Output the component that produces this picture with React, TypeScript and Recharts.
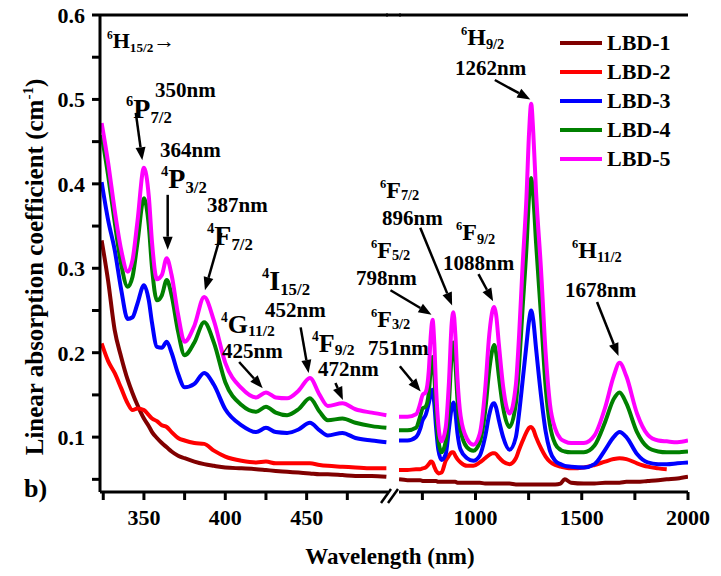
import React from 'react';
import {
  LineChart,
  Line,
  XAxis,
  YAxis,
  ReferenceLine,
  Legend,
} from 'recharts';

const FONT = 'Liberation Serif, DejaVu Serif, serif';

// UV-visible segment (nm)
const leftNm = [324, 328, 332, 336, 340, 343, 346, 350, 353, 355, 358, 361, 364, 367, 371, 375, 381, 387, 393, 400, 410, 419, 425, 431, 438, 445, 452, 458, 463, 472, 480, 490, 499];
const lbd1Left = [0.333, 0.285, 0.227, 0.195, 0.168, 0.152, 0.138, 0.122, 0.113, 0.106, 0.099, 0.093, 0.088, 0.083, 0.078, 0.075, 0.071, 0.068, 0.066, 0.064, 0.063, 0.062, 0.061, 0.060, 0.059, 0.058, 0.057, 0.056, 0.056, 0.055, 0.054, 0.054, 0.053];
const lbd2Left = [0.211, 0.19, 0.176, 0.158, 0.14, 0.132, 0.134, 0.132, 0.126, 0.122, 0.119, 0.114, 0.112, 0.106, 0.099, 0.096, 0.093, 0.092, 0.084, 0.077, 0.072, 0.07, 0.071, 0.069, 0.069, 0.069, 0.069, 0.067, 0.066, 0.065, 0.064, 0.063, 0.063];
const lbd3Left = [0.402, 0.357, 0.322, 0.275, 0.24, 0.242, 0.258, 0.28, 0.262, 0.235, 0.207, 0.206, 0.213, 0.2, 0.175, 0.159, 0.163, 0.176, 0.162, 0.133, 0.114, 0.106, 0.111, 0.106, 0.105, 0.109, 0.117, 0.108, 0.102, 0.105, 0.099, 0.096, 0.094];
const lbd4Left = [0.458, 0.41, 0.355, 0.305, 0.278, 0.29, 0.33, 0.383, 0.35, 0.3, 0.262, 0.268, 0.286, 0.268, 0.225, 0.197, 0.212, 0.236, 0.212, 0.165, 0.138, 0.13, 0.136, 0.129, 0.126, 0.133, 0.146, 0.13, 0.12, 0.122, 0.117, 0.113, 0.111];
const lbd5Left = [0.472, 0.425, 0.369, 0.322, 0.296, 0.31, 0.355, 0.419, 0.385, 0.33, 0.287, 0.292, 0.312, 0.292, 0.245, 0.213, 0.232, 0.266, 0.238, 0.188, 0.158, 0.147, 0.153, 0.147, 0.146, 0.155, 0.17, 0.15, 0.137, 0.14, 0.133, 0.129, 0.126];

// NIR segment (nm)
const rightNm = [640, 680, 720, 740, 751, 765, 780, 790, 798, 806, 815, 825, 840, 860, 875, 888, 896, 905, 915, 930, 960, 990, 1020, 1045, 1065, 1080, 1088, 1097, 1110, 1130, 1160, 1190, 1205, 1221, 1240, 1252, 1262, 1272, 1285, 1308, 1330, 1350, 1375, 1400, 1420, 1450, 1510, 1560, 1610, 1650, 1678, 1710, 1760, 1810, 1860, 1900, 1950, 2000];
const lbd1Right = [0.05, 0.049, 0.049, 0.049, 0.048, 0.048, 0.048, 0.048, 0.048, 0.048, 0.048, 0.047, 0.047, 0.047, 0.047, 0.047, 0.047, 0.047, 0.046, 0.046, 0.046, 0.046, 0.046, 0.045, 0.045, 0.045, 0.045, 0.045, 0.045, 0.045, 0.045, 0.044, 0.044, 0.044, 0.044, 0.044, 0.044, 0.044, 0.044, 0.044, 0.044, 0.044, 0.044, 0.045, 0.05, 0.046, 0.045, 0.045, 0.046, 0.046, 0.046, 0.047, 0.047, 0.048, 0.049, 0.05, 0.051, 0.053];
const lbd2Right = [0.061, 0.061, 0.062, 0.062, 0.063, 0.064, 0.068, 0.071, 0.07, 0.065, 0.06, 0.057, 0.058, 0.072, 0.078, 0.082, 0.082, 0.078, 0.074, 0.07, 0.066, 0.066, 0.07, 0.075, 0.079, 0.081, 0.081, 0.08, 0.076, 0.071, 0.068, 0.075, 0.085, 0.095, 0.106, 0.111, 0.112, 0.109, 0.1, 0.087, 0.077, 0.071, 0.067, 0.065, 0.064, 0.063, 0.064, 0.067, 0.071, 0.074, 0.075, 0.074, 0.069, 0.065, 0.063, 0.062, null, null];
const lbd3Right = [0.096, 0.096, 0.1, 0.11, 0.12, 0.126, 0.14, 0.152, 0.156, 0.14, 0.11, 0.085, 0.073, 0.08, 0.11, 0.135, 0.141, 0.13, 0.105, 0.085, 0.075, 0.072, 0.078, 0.1, 0.127, 0.139, 0.14, 0.135, 0.12, 0.1, 0.085, 0.1, 0.128, 0.165, 0.21, 0.238, 0.25, 0.238, 0.205, 0.15, 0.107, 0.084, 0.072, 0.068, 0.066, 0.065, 0.064, 0.068, 0.085, 0.1, 0.106, 0.1, 0.08, 0.07, 0.068, 0.068, 0.069, 0.07];
const lbd4Right = [0.108, 0.108, 0.111, 0.125, 0.134, 0.136, 0.152, 0.182, 0.195, 0.175, 0.13, 0.097, 0.082, 0.095, 0.14, 0.198, 0.212, 0.19, 0.145, 0.108, 0.088, 0.084, 0.094, 0.13, 0.18, 0.204, 0.209, 0.2, 0.172, 0.135, 0.112, 0.14, 0.185, 0.25, 0.325, 0.385, 0.407, 0.385, 0.33, 0.245, 0.16, 0.115, 0.092, 0.085, 0.083, 0.082, 0.082, 0.09, 0.118, 0.145, 0.153, 0.14, 0.106, 0.088, 0.083, 0.082, 0.082, 0.083];
const lbd5Right = [0.124, 0.124, 0.127, 0.14, 0.15, 0.153, 0.178, 0.222, 0.239, 0.212, 0.155, 0.115, 0.095, 0.112, 0.165, 0.235, 0.248, 0.222, 0.17, 0.125, 0.098, 0.091, 0.104, 0.155, 0.222, 0.25, 0.254, 0.245, 0.21, 0.16, 0.128, 0.162, 0.22, 0.3, 0.385, 0.46, 0.495, 0.46, 0.39, 0.3, 0.2, 0.14, 0.11, 0.098, 0.095, 0.093, 0.093, 0.102, 0.135, 0.172, 0.188, 0.172, 0.128, 0.103, 0.096, 0.095, 0.094, 0.096];

const seriesNames = ['LBD-1', 'LBD-2', 'LBD-3', 'LBD-4', 'LBD-5'];
const seriesColors = ['#800000', '#ff0000', '#0000ff', '#008000', '#ff00ff'];

const yTicks = [0.05, 0.1, 0.15, 0.2, 0.25, 0.3, 0.35, 0.4, 0.45, 0.5, 0.55, 0.6];
const leftTicks = [325, 350, 375, 400, 425, 450, 475];
const rightTicks = [750, 1000, 1250, 1500, 1750, 2000];
const leftLabeled = [350, 400, 450];
const rightLabeled = [1000, 1500, 2000];

// arrows: [tail nm, tail value, head nm, head value]
const leftArrows = [
  [345, 0.484, 349, 0.428],
  [364.6, 0.387, 364.6, 0.322],
  [397.6, 0.342, 387.5, 0.274],
  [408.5, 0.189, 423, 0.158],
  [446.3, 0.23, 451.2, 0.176],
  [467.7, 0.164, 472.3, 0.144],
];
const rightArrows = [
  [644, 0.184, 742, 0.154],
  [600, 0.274, 793, 0.245],
  [740, 0.348, 890, 0.256],
  [1014, 0.293, 1083, 0.261],
  [1091, 0.523, 1258, 0.5],
  [1572, 0.26, 1673, 0.196],
];

const leftData = leftNm.map((nm, i) => ({
  nm,
  'LBD-1': lbd1Left[i],
  'LBD-2': lbd2Left[i],
  'LBD-3': lbd3Left[i],
  'LBD-4': lbd4Left[i],
  'LBD-5': lbd5Left[i],
}));
const rightData = rightNm.map((nm, i) => ({
  nm,
  'LBD-1': lbd1Right[i],
  'LBD-2': lbd2Right[i],
  'LBD-3': lbd3Right[i],
  'LBD-4': lbd4Right[i],
  'LBD-5': lbd5Right[i],
}));

const Y_DOMAIN: [number, number] = [0.035, 0.6];
const axisLine = { stroke: '#000', strokeWidth: 3 };
const tickStyle = { fill: '#000', fontSize: 22, fontWeight: 700, fontFamily: FONT };

const ArrowShape = (props: any) => {
  const { x1, y1, x2, y2 } = props;
  if ([x1, y1, x2, y2].some((v) => typeof v !== 'number' || isNaN(v))) return null;
  const a = Math.atan2(y2 - y1, x2 - x1);
  const len = 13;
  const half = 5;
  const bx = x2 - len * Math.cos(a);
  const by = y2 - len * Math.sin(a);
  const pts = `${x2},${y2} ${bx - half * Math.sin(a)},${by + half * Math.cos(a)} ${bx + half * Math.sin(a)},${by - half * Math.cos(a)}`;
  return (
    <g>
      <line x1={x1} y1={y1} x2={bx} y2={by} stroke="#000" strokeWidth={2.5} />
      <polygon points={pts} fill="#000" />
    </g>
  );
};

const renderArrows = (arrows: number[][]) =>
  arrows.map(([tx, ty, hx, hy], i) => (
    <ReferenceLine
      key={`arrow-${i}`}
      segment={[{ x: tx, y: ty }, { x: hx, y: hy }]}
      ifOverflow="visible"
      shape={ArrowShape}
    />
  ));

const renderLines = () =>
  seriesNames.map((name, i) => (
    <Line
      key={name}
      type="monotone"
      dataKey={name}
      name={name}
      stroke={seriesColors[i]}
      strokeWidth={4}
      dot={false}
      activeDot={false}
      isAnimationActive={false}
    />
  ));

const renderLegend = (props: any) => {
  const { payload = [] } = props;
  return (
    <div style={{ fontFamily: FONT, fontWeight: 700, fontSize: 22, color: '#000' }}>
      {payload.map((entry: any) => (
        <div key={entry.value} style={{ display: 'flex', alignItems: 'center', height: 29 }}>
          <span style={{ display: 'inline-block', width: 42, height: 4, background: entry.color, marginRight: 5 }} />
          <span>{entry.value}</span>
        </div>
      ))}
    </div>
  );
};

// term symbol like ⁶P₇/₂ with optional trailing text
const Term = ({ x, y, sup, main, sub, size = 26, tail, subDrop = 0.18 }: any) => (
  <text x={x} y={y} fontFamily={FONT} fontWeight={700} fill="#000">
    <tspan fontSize={size * 0.52} dy={-size * 0.42}>{sup}</tspan>
    <tspan fontSize={size} dy={size * 0.42}>{main}</tspan>
    <tspan fontSize={size * 0.6} dy={size * subDrop}>{sub}</tspan>
    {tail ? <tspan fontSize={size} dy={-size * 0.2}>{tail}</tspan> : null}
  </text>
);

const Note = ({ x, y, children, size = 21 }: any) => (
  <text x={x} y={y} fontFamily={FONT} fontWeight={700} fontSize={size} fill="#000">
    {children}
  </text>
);

const App: React.FC = () => {
  return (
    <div style={{ position: 'absolute', left: 0, top: 0, width: 721, height: 576, background: '#fff' }}>
      <div style={{ position: 'absolute', left: 0, top: 0 }}>
        <LineChart width={395} height={576} data={leftData} margin={{ top: 15, right: 7, left: 0, bottom: 0 }}>
          <XAxis
            dataKey="nm"
            type="number"
            domain={[323, 500]}
            allowDataOverflow
            ticks={leftTicks}
            tickFormatter={(v: number) => (leftLabeled.includes(v) ? String(v) : '')}
            height={84}
            tickSize={8}
            tickMargin={9}
            axisLine={axisLine}
            tickLine={axisLine}
            tick={tickStyle}
          />
          <YAxis
            type="number"
            domain={Y_DOMAIN}
            allowDataOverflow
            ticks={yTicks}
            tickFormatter={(v: number) => (Math.round(v * 100) % 10 === 0 ? v.toFixed(1) : '')}
            width={100}
            tickSize={8}
            tickMargin={7}
            axisLine={axisLine}
            tickLine={axisLine}
            tick={tickStyle}
          />
          <ReferenceLine y={0.6} stroke="#000" strokeWidth={3} />
          {renderLines()}
          {renderArrows(leftArrows)}
        </LineChart>
      </div>
      <div style={{ position: 'absolute', left: 388, top: 0 }}>
        <LineChart width={333} height={576} data={rightData} margin={{ top: 15, right: 33, left: 11, bottom: 0 }}>
          <XAxis
            dataKey="nm"
            type="number"
            domain={[640, 2000]}
            allowDataOverflow
            ticks={rightTicks}
            tickFormatter={(v: number) => (rightLabeled.includes(v) ? String(v) : '')}
            height={84}
            tickSize={8}
            tickMargin={9}
            axisLine={axisLine}
            tickLine={axisLine}
            tick={tickStyle}
          />
          <YAxis
            type="number"
            orientation="right"
            domain={Y_DOMAIN}
            allowDataOverflow
            width={0}
            tick={false}
            tickLine={false}
            axisLine={axisLine}
          />
          <ReferenceLine y={0.6} stroke="#000" strokeWidth={3} />
          {renderLines()}
          {renderArrows(rightArrows)}
          <Legend
            layout="vertical"
            align="center"
            verticalAlign="middle"
            content={renderLegend}
            wrapperStyle={{ left: 172, top: 28, width: 150 }}
          />
        </LineChart>
      </div>
      <svg
        width={721}
        height={576}
        style={{ position: 'absolute', left: 0, top: 0, pointerEvents: 'none' }}
      >
        {/* top frame across the axis break */}
        <line x1={386} y1={15} x2={401} y2={15} stroke="#000" strokeWidth={3} />
        {/* axis break marks */}
        <line x1={381} y1={503} x2={391} y2={489} stroke="#000" strokeWidth={2.5} />
        <line x1={388} y1={503} x2={398} y2={489} stroke="#000" strokeWidth={2.5} />

        <Term x={107} y={48} sup="6" main="H" sub="15/2" size={22} tail="→" />
        <Term x={126} y={118} sup="6" main="P" sub="7/2" size={28} />
        <Note x={155} y={97}>350nm</Note>
        <Term x={161} y={188} sup="4" main="P" sub="3/2" size={28} />
        <Note x={160} y={157}>364nm</Note>
        <Term x={207} y={245} sup="4" main="F" sub="7/2" size={28} />
        <Note x={207} y={212}>387nm</Note>
        <Term x={262} y={290} sup="4" main="I" sub="15/2" size={28} />
        <Note x={265} y={317}>452nm</Note>
        <Term x={221} y={333} sup="4" main="G" sub="11/2" size={26} subDrop={0.12} />
        <Note x={222} y={358}>425nm</Note>
        <Term x={312} y={352} sup="4" main="F" sub="9/2" size={26} subDrop={0.12} />
        <Note x={318} y={376}>472nm</Note>

        <Term x={371} y={327} sup="6" main="F" sub="3/2" size={24} subDrop={0.1} />
        <Note x={368} y={355}>751nm</Note>
        <Term x={371} y={258} sup="6" main="F" sub="5/2" size={24} subDrop={0.1} />
        <Note x={356} y={285}>798nm</Note>
        <Term x={380} y={198} sup="6" main="F" sub="7/2" size={24} subDrop={0.1} />
        <Note x={382} y={225}>896nm</Note>
        <Term x={456} y={240} sup="6" main="F" sub="9/2" size={24} />
        <Note x={443} y={270}>1088nm</Note>
        <Term x={461} y={45} sup="6" main="H" sub="9/2" size={24} />
        <Note x={455} y={75}>1262nm</Note>
        <Term x={572} y={258} sup="6" main="H" sub="11/2" size={24} />
        <Note x={565} y={297}>1678nm</Note>

        <Note x={24} y={497} size={26}>b)</Note>
        <text x={390} y={564} textAnchor="middle" fontFamily={FONT} fontWeight={700} fontSize={23} fill="#000">
          Wavelength (nm)
        </text>
        <text
          transform="translate(43, 267) rotate(-90)"
          textAnchor="middle"
          fontFamily={FONT}
          fontWeight={700}
          fontSize={25}
          fill="#000"
        >
          Linear absorption coefficient (cm
          <tspan fontSize={15} dy={-10}>-1</tspan>
          <tspan dy={10}>)</tspan>
        </text>
      </svg>
    </div>
  );
};

export default App;
